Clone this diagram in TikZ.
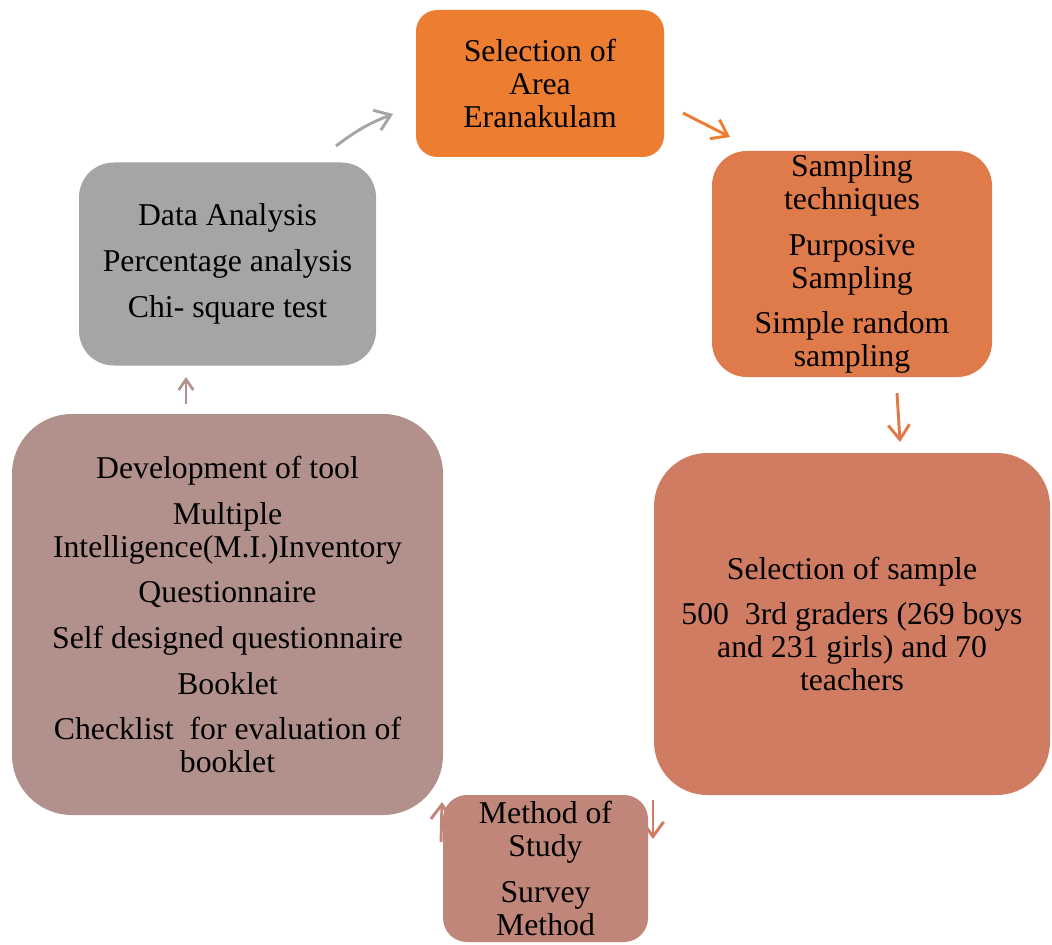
\documentclass[tikz,border=0pt]{standalone}
\usepackage{fontspec}
\setmainfont{Liberation Serif}
\usetikzlibrary{arrows.meta}

\definecolor{areacol}{HTML}{ED7D31}
\definecolor{samplingcol}{HTML}{DF7A4A}
\definecolor{samplecol}{HTML}{CF7C62}
\definecolor{methodcol}{HTML}{C0867A}
\definecolor{toolcol}{HTML}{B2918D}
\definecolor{analysiscol}{HTML}{A5A5A5}

\tikzset{
  stepbox/.style={inner sep=0pt, align=center, text=black,
    font=\fontsize{23.8}{24.75}\selectfont},
  flowarrow/.style={line width=2.2pt, -{Straight Barb[length=11pt, width=16pt]}},
  smallarrow/.style={line width=2pt, -{Straight Barb[length=8pt, width=11pt]}}
}

\begin{document}
\begin{tikzpicture}[x=0.75pt, y=-0.75pt]
\useasboundingbox (0,0) rectangle (1052,945);

	%Arrow ends
	\coordinate (g1) at (336,146);
	\coordinate (g2) at (393,114);
	\coordinate (o1) at (683,113);
	\coordinate (o2) at (730,137);
	\coordinate (s1) at (897,393);
	\coordinate (s2) at (900,442);
	\coordinate (m1) at (653,800);
	\coordinate (m2) at (653,839);
	\coordinate (t1) at (441,842);
	\coordinate (t2) at (442,802);
	\coordinate (d1) at (186,404);
	\coordinate (d2) at (186,377);

	%Arrows
	\draw [flowarrow, analysiscol] (g1) to[bend left=8] (g2);
	\draw [flowarrow, areacol] (o1) -- (o2);
	\draw [flowarrow, samplingcol] (s1) -- (s2);
	\draw [flowarrow, samplecol] (m1) -- (m2);
	\draw [flowarrow, methodcol] (t1) -- (t2);
	\draw [smallarrow, toolcol] (d1) -- (d2);

	%Boxes
	\node [stepbox, fill=areacol, rounded corners=16pt,
	  minimum width=186pt, minimum height=110.25pt] (area) at (540,83.5)
	  {Selection of\\Area\\Eranakulam};
	\node [stepbox, fill=samplingcol, rounded corners=26pt,
	  minimum width=210pt, minimum height=169.5pt] (sampling) at (852,264)
	  {Sampling\\techniques\\[9.5pt]Purposive\\Sampling\\[9.5pt]Simple random\\sampling};
	\node [stepbox, fill=samplecol, rounded corners=40pt,
	  minimum width=297pt, minimum height=256.5pt] (sample) at (852,624)
	  {Selection of sample\\[9.5pt]500\ \ 3rd graders (269 boys\\and 231 girls) and 70\\teachers};
	\node [stepbox, fill=methodcol, rounded corners=18pt,
	  minimum width=153.75pt, minimum height=110.25pt] (method) at (545.5,868.5)
	  {Method of\\Study\\[9.5pt]Survey\\Method};
	\node [stepbox, fill=toolcol, rounded corners=45pt,
	  minimum width=323.25pt, minimum height=300.75pt] (tool) at (227.5,614.5)
	  {Development of tool\\[9.5pt]Multiple\\Intelligence(M.I.)Inventory\\[9.5pt]Questionnaire\\[9.5pt]Self designed questionnaire\\[9.5pt]Booklet\\[9.5pt]Checklist\ \ for evaluation of\\booklet};
	\node [stepbox, fill=analysiscol, rounded corners=26pt,
	  minimum width=222.75pt, minimum height=152.25pt] (analysis) at (227.5,264)
	  {Data Analysis\\[9.5pt]Percentage analysis\\[9.5pt]Chi- square test};

\end{tikzpicture}
\end{document}
